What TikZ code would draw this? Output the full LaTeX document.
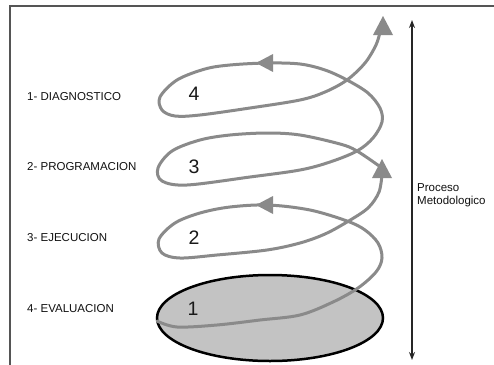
\documentclass[tikz,border=0pt]{standalone}
\usepackage{fontspec}
\setmainfont{Liberation Sans}
\usetikzlibrary{arrows.meta,shapes.geometric}
\definecolor{spiralgray}{HTML}{8A8A8A}
\definecolor{fillgray}{HTML}{C3C3C3}
\definecolor{framegray}{HTML}{555555}
\definecolor{textgray}{HTML}{111111}
\begin{document}
\begin{tikzpicture}[x=1pt,y=-1pt,
  lbl/.style={anchor=west, inner sep=0pt, font=\fontsize{11.5}{13}\selectfont, text=textgray},
  num/.style={inner sep=0pt, font=\fontsize{19.5}{20}\selectfont, text=black!90},
  spiral/.style={draw=spiralgray, line width=3pt, line cap=round},
  tipfill/.style={fill=spiralgray}]
\useasboundingbox (0,0) rectangle (494,364);
\fill[white] (0,0) rectangle (494,364);
% frame
\draw[framegray, line width=1.6pt] (10,370) -- (10,6) -- (500,6);
% base ellipse
\node[ellipse, draw=black, line width=2.5pt, fill=fillgray, inner sep=0pt,
      minimum width=226pt, minimum height=86pt] (base) at (270,318) {};
% spiral, part A
\draw[spiral] plot[smooth, tension=0.55] coordinates {
  (157,321) (177,327) (217,325) (260,320) (300,315) (333,302) (358,288)
  (376,272) (382,258) (378,243) (365,230) (347,221) (310,210) (268,205)
  (230,207) (200,213) (175,223) (159,239) (162,253) (180,258) (217,255)
  (267,250) (300,243) (325,234) (347,222) (368,208) (379,192) (382,174)};
% spiral, part B
\draw[spiral] plot[smooth, tension=0.55] coordinates {
  (382,168) (357,151) (340,144) (300,135) (267,133) (230,135) (200,140)
  (172,151) (158,168) (162,181) (187,185) (250,177) (300,170) (330,162)
  (357,151) (373,138) (382,122) (380,108) (368,93) (347,80) (325,70)
  (300,64) (267,63) (230,65) (205,69) (177,80) (160,97) (162,110)
  (175,116) (200,115) (250,108) (300,100) (325,92) (347,80) (365,63)
  (376,45) (380,32)};
% arrowheads on the spiral
\fill[tipfill] (383,16) -- (373,35) -- (393,35) -- cycle;
\fill[tipfill] (382,159) -- (372,178) -- (392,178) -- cycle;
\fill[tipfill] (256,63) -- (273,54) -- (273,72) -- cycle;
\fill[tipfill] (256,205) -- (273,196) -- (273,214) -- cycle;
% numbers
\node[num] (n4) at (194,94) {4};
\node[num] (n3) at (194,167) {3};
\node[num] (n2) at (194,238) {2};
\node[num] (n1) at (193,309) {1};
% labels
\node[lbl] (l1) at (27,97) {1- DIAGNOSTICO};
\node[lbl] (l2) at (27,167) {2- PROGRAMACION};
\node[lbl] (l3) at (27,238) {3- EJECUCION};
\node[lbl] (l4) at (27,309) {4- EVALUACION};
% process arrow
\coordinate (ptop) at (412,20);
\coordinate (pbot) at (412,360);
\draw[black!85, line width=1.4pt, {Stealth[length=8pt,width=6pt]}-{Stealth[length=8pt,width=6pt]}] (ptop) -- (pbot);
\node[lbl, align=left] (proc) at (417,195.5) {Proceso\\Metodologico};
\end{tikzpicture}
\end{document}
